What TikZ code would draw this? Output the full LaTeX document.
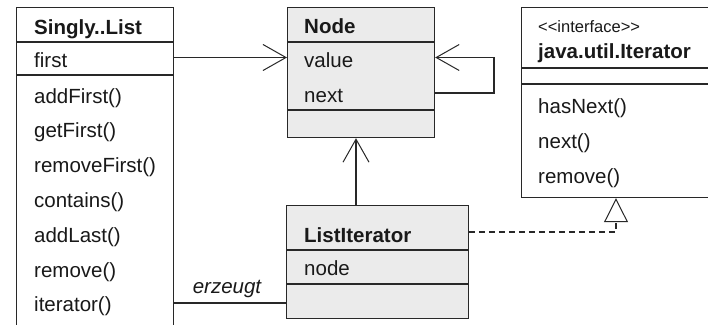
\documentclass[tikz,border=0pt]{standalone}
\usepackage{fontspec}
\setmainfont{Liberation Sans}
\usetikzlibrary{arrows.meta}
\definecolor{umlgray}{RGB}{235,235,235}
\definecolor{umlline}{RGB}{40,40,40}
\tikzset{
  classbox/.style={draw=umlline, line width=1.2pt, rectangle, inner sep=0pt, anchor=north west},
  sep/.style={draw=umlline, line width=1.2pt},
  txt/.style={anchor=base west, inner sep=0pt, font=\fontsize{20.5}{24}\selectfont, text=black!90},
  title/.style={txt, font=\fontsize{20.5}{24}\selectfont\bfseries},
  stereo/.style={txt, font=\fontsize{16.5}{19}\selectfont},
  assoc/.style={draw=umlline, line width=1.1pt, -{Straight Barb[length=23pt, width=26pt, line width=1pt]}},
  realize/.style={draw=umlline, line width=1.1pt, dash pattern=on 6pt off 4pt,
    -{Triangle[open, length=24pt, width=24pt, fill=white, line width=1pt]}},
  plain/.style={draw=umlline, line width=1.1pt}
}
\begin{document}
\begin{tikzpicture}[x=1pt, y=-1pt]
\useasboundingbox (0,0) rectangle (708,324);
\clip (0,0) rectangle (708,324);
\fill[white] (0,0) rectangle (708,324);

% ---- class SinglyLinkedList (runs past the lower edge)
\node[classbox, fill=white, minimum width=157pt, minimum height=340pt] (sl) at (16,7) {};
\draw[sep] (16,42) -- (173,42);
\draw[sep] (16,75) -- (173,75);
\node[title] (slT) at (34,34) {Singly..List};
\node[txt] (slA) at (34,67) {first};
\node[txt] (slM1) at (34,103) {addFirst()};
\node[txt] (slM2) at (34,137.5) {getFirst()};
\node[txt] (slM3) at (34,172.5) {removeFirst()};
\node[txt] (slM4) at (34,207.5) {contains()};
\node[txt] (slM5) at (34,242.5) {addLast()};
\node[txt] (slM6) at (34,277) {remove()};
\node[txt] (slM7) at (34,311.5) {iterator()};

% ---- class Node
\node[classbox, fill=umlgray, minimum width=147pt, minimum height=130pt] (nd) at (287,7) {};
\draw[sep] (287,42) -- (434,42);
\draw[sep] (287,110) -- (434,110);
\node[title] (ndT) at (304,33) {Node};
\node[txt] (ndA1) at (304,67) {value};
\node[txt] (ndA2) at (304,102) {next};

% ---- class ListIterator
\node[classbox, fill=umlgray, minimum width=182pt, minimum height=113pt] (li) at (286,205) {};
\draw[sep] (286,250) -- (468,250);
\draw[sep] (286,284) -- (468,284);
\node[title] (liT) at (304,242) {ListIterator};
\node[txt] (liA) at (304,275) {node};

% ---- interface java.util.Iterator (runs past the right edge)
\node[classbox, fill=white, minimum width=192pt, minimum height=190pt] (it) at (521,7) {};
\draw[sep] (521,68) -- (713,68);
\draw[sep] (521,84) -- (713,84);
\node[stereo] (itS) at (538,32) {<\kern0pt<interface>\kern0pt>};
\node[title] (itT) at (538,58) {java.util.Iterator};
\node[txt] (itM1) at (538,113) {hasNext()};
\node[txt] (itM2) at (538,148) {next()};
\node[txt] (itM3) at (538,183) {remove()};

% ---- connectors
\coordinate (firstrow) at (0,57.5);
\coordinate (loopcorner) at (494,93);
\coordinate (upx) at (356,0);
\coordinate (realrow) at (0,232);
\coordinate (realx) at (616,0);
\coordinate (makerow) at (0,303);

% first -> Node
\draw[assoc] (sl.east |- firstrow) -- (nd.west |- firstrow);
% next -> Node (self reference)
\draw[assoc] (nd.east |- loopcorner) -- (loopcorner) -- (loopcorner |- firstrow) -- (nd.east |- firstrow);
% ListIterator.node -> Node
\draw[assoc] (li.north -| upx) -- (nd.south -| upx);
% ListIterator realizes java.util.Iterator
\draw[realize] (li.east |- realrow) -| (it.south -| realx);
% iterator() creates ListIterator
\draw[plain] (sl.east |- makerow) -- (li.west |- makerow);
\node[txt, anchor=base, font=\fontsize{20.5}{24}\selectfont\itshape] (mk) at (227,293) {erzeugt};
\end{tikzpicture}
\end{document}
